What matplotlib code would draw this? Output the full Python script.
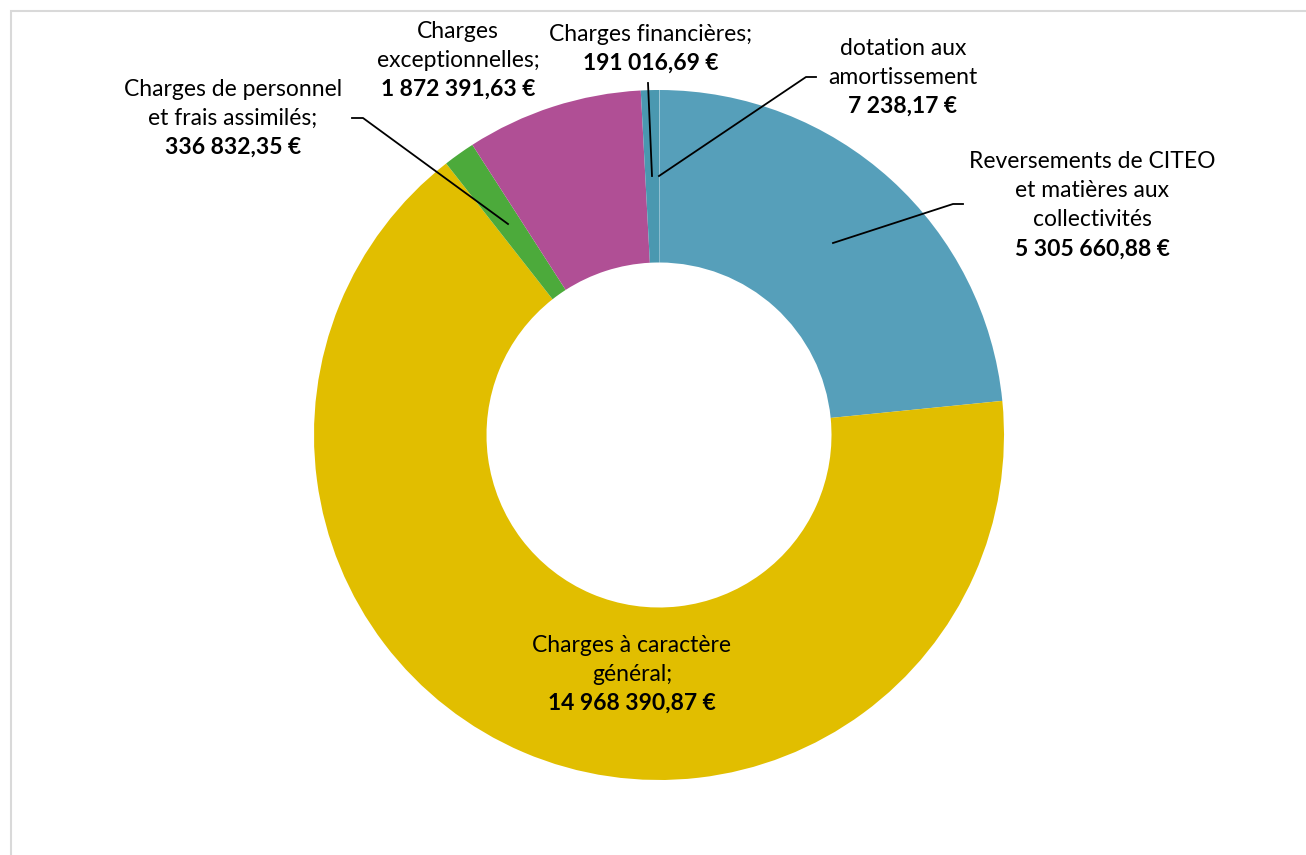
import matplotlib.pyplot as plt
from matplotlib.patches import Rectangle

# Répartition des charges (€)
categories = [
    "dotation aux\namortissement",
    "Reversements de CITEO\net matières aux\ncollectivités",
    "Charges à caractère\ngénéral;",
    "Charges de personnel\net frais assimilés;",
    "Charges\nexceptionnelles;",
    "Charges financières;",
]
values = [7238.17, 5305660.88, 14968390.87, 336832.35, 1872391.63, 191016.69]
colors = ["#9fcbd9", "#569fba", "#e1be00", "#4caa3b", "#b04f95", "#4a98b0"]

W, H = 1306, 855
CX, CY, R = 659, 435, 345

plt.rcParams['font.family'] = ['Lato', 'DejaVu Sans']


def euro(v):
    return f"{v:,.2f}".replace(",", " ").replace(".", ",") + " €"


fig = plt.figure(figsize=(W / 100, H / 100), dpi=100)
ax = fig.add_axes([0, 0, 1, 1])

ax.pie(values, colors=colors, startangle=90, counterclock=False,
       center=(CX, H - CY), radius=R, frame=True,
       wedgeprops=dict(width=R * 0.5, linewidth=0))
ax.set_xlim(0, W)
ax.set_ylim(0, H)
ax.set_aspect('equal')
ax.axis('off')

# cadre gris de la zone de graphique
ax.add_patch(Rectangle((10.5, -20), W + 20, H - 10.5 + 20, fill=False,
                       edgecolor='#d9d9d9', linewidth=1.5))

# position du texte (centre x, y de la 1re ligne) et ligne de rappel
label_pos = [(903, 48), (1092, 161), (632, 645), (233, 89), (458, 31), (651, 34)]
leaders = [
    [(816, 77), (806, 77), (659, 176)],
    [(963, 204), (953, 204), (833, 243)],
    None,
    [(352, 118), (363, 118), (508, 224)],
    None,
    [(648, 83), (652, 176)],
]
step = 29.3
fs = 16.5

for cat, val, (x, y0), pts in zip(categories, values, label_pos, leaders):
    lines = cat.split("\n")
    for i, line in enumerate(lines):
        ax.text(x, H - (y0 + i * step), line, ha='center', va='center',
                fontsize=fs, color='black')
    ax.text(x, H - (y0 + len(lines) * step), euro(val), ha='center',
            va='center', fontsize=fs, fontweight='bold', color='black')
    if pts:
        ax.plot([p[0] for p in pts], [H - p[1] for p in pts],
                color='black', linewidth=1.3)

fig.savefig("out.png", dpi=100)
